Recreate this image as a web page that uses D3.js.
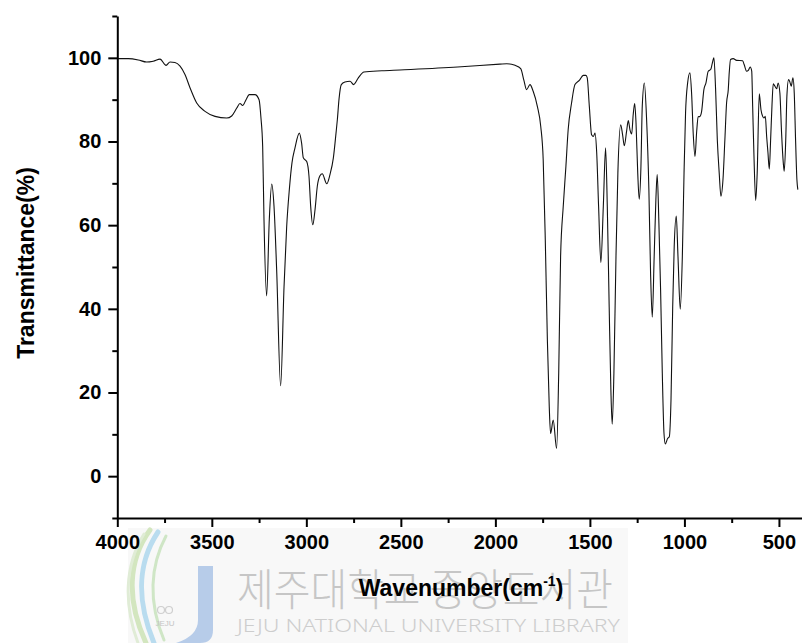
<!DOCTYPE html>
<html>
<head>
<meta charset="utf-8">
<script src="https://cdn.jsdelivr.net/npm/d3@7"></script>
<style>
  html, body { margin: 0; padding: 0; background: #fff; }
  svg { display: block; }
</style>
</head>
<body>
<svg id="chart" width="802" height="643"></svg>
<script>
// FT-IR spectrum: wavenumber (cm-1) vs. transmittance (%)
const wavenumber = [
  3998, 3942, 3889, 3845, 3810, 3774, 3742, 3721, 3695, 3668, 3642, 3615, 3580, 3536, 3483, 3421,
  3395, 3368, 3351, 3337, 3319, 3302, 3272, 3250, 3240, 3231, 3224, 3210, 3196, 3183, 3171, 3157,
  3136, 3118, 3104, 3090, 3076, 3060, 3037, 3025, 3016, 2998, 2986, 2977, 2966, 2954, 2942, 2928,
  2916, 2892, 2875, 2857, 2843, 2836, 2827, 2815, 2796, 2769, 2750, 2725, 2695, 2600, 2505, 2200,
  1976, 1940, 1896, 1866, 1849, 1835, 1817, 1800, 1778, 1760, 1747, 1736, 1725, 1715, 1708, 1694,
  1676, 1665, 1655, 1641, 1627, 1615, 1597, 1579, 1556, 1535, 1521, 1514, 1503, 1491, 1482, 1473,
  1464, 1454, 1442, 1429, 1417, 1408, 1398, 1389, 1382, 1373, 1362, 1352, 1337, 1327, 1318, 1306,
  1297, 1288, 1279, 1271, 1263, 1256, 1247, 1239, 1230, 1223, 1212, 1200, 1188, 1179, 1170, 1160,
  1151, 1144, 1135, 1126, 1117, 1108, 1101, 1089, 1080, 1071, 1062, 1054, 1043, 1034, 1022, 1011,
  1002, 994, 983, 971, 962, 953, 944, 935, 927, 918, 909, 897, 886, 874, 861, 853,
  844, 835, 826, 816, 807, 796, 786, 777, 768, 763, 756, 742, 724, 692, 684, 671,
  662, 652, 644, 639, 632, 623, 615, 604, 595, 586, 579, 572, 565, 558, 551, 544,
  537, 530, 521, 512, 504, 495, 486, 477, 472, 464, 458, 449, 442, 435, 426, 419,
  412, 405, 400
];
const transmittance = [
  99.8, 99.8, 99.5, 99.0, 99.2, 99.7, 98.2, 99.0, 98.9, 98.0, 96.0, 92.8, 89.2, 87.2, 86.0, 85.6,
  86.1, 88.0, 89.1, 88.6, 90.0, 91.2, 91.2, 90.0, 85.6, 78.8, 61.3, 43.1, 61.3, 69.8, 64.5, 49.3,
  21.6, 45.3, 59.7, 68.5, 74.9, 78.5, 82.0, 79.6, 76.1, 75.2, 71.7, 64.5, 60.1, 63.7, 69.3, 71.8,
  72.3, 69.9, 72.1, 76.1, 82.0, 85.2, 90.2, 93.6, 94.2, 94.4, 93.6, 95.2, 96.6, 96.9, 97.1, 97.8,
  98.5, 98.6, 98.2, 97.4, 94.6, 92.4, 93.6, 92.0, 88.4, 83.6, 75.6, 56.5, 32.6, 16.6, 10.2, 13.4,
  6.6, 24.6, 52.5, 64.5, 74.0, 82.8, 89.2, 93.6, 94.6, 95.8, 95.8, 95.2, 88.4, 81.6, 81.2, 82.0,
  77.3, 64.5, 51.1, 64.5, 78.5, 64.5, 40.5, 20.6, 12.4, 24.6, 52.5, 72.5, 84.0, 81.6, 79.0, 82.4,
  85.0, 82.8, 81.8, 86.4, 89.1, 84.4, 72.5, 66.2, 74.0, 88.4, 94.0, 85.2, 68.5, 48.5, 38.0, 52.5,
  66.1, 72.1, 60.5, 44.5, 24.6, 10.2, 7.7, 9.0, 9.4, 18.2, 40.5, 54.9, 62.2, 52.5, 39.9, 52.5,
  72.5, 86.8, 94.0, 96.4, 91.5, 81.5, 76.4, 82.5, 85.9, 86.0, 87.2, 92.4, 94.0, 96.8, 97.2, 98.6,
  100.0, 92.4, 80.4, 72.5, 66.9, 70.9, 80.4, 89.2, 92.4, 96.4, 99.6, 99.8, 99.4, 99.3, 98.4, 96.8,
  97.0, 97.8, 96.8, 88.4, 76.4, 65.9, 72.5, 91.4, 87.6, 86.0, 85.6, 86.0, 81.2, 77.3, 73.4, 80.4,
  88.4, 93.8, 93.2, 92.6, 94.0, 91.6, 82.0, 74.9, 72.9, 80.4, 90.8, 94.8, 94.2, 93.2, 95.2, 91.6,
  80.4, 70.9, 68.5
];

const xMajorTicks = [4000, 3500, 3000, 2500, 2000, 1500, 1000, 500];
const xMinorTicks = [3750, 3250, 2750, 2250, 1750, 1250, 750];
const yMajorTicks = [0, 20, 40, 60, 80, 100];
const yMinorTicks = [-10, 10, 30, 50, 70, 90, 110];

const xTitle = "Wavenumber(cm";
const xTitleSup = "-1";
const yTitle = "Transmittance(%)";

const watermarkKo = "제주대학교 중앙도서관";
const watermarkEn = "JEJU NATIONAL UNIVERSITY  LIBRARY";
const logoText = "JEJU";

const svg = d3.select("#chart");
const FONT = "'Liberation Sans', Arial, Helvetica, sans-serif";

// ---- library watermark (drawn underneath the chart) ----
const wm = svg.append("g").attr("class", "watermark");
wm.append("rect")
  .attr("x", 128).attr("y", 528).attr("width", 500).attr("height", 115)
  .attr("fill", "#f8f8f8");

// logo swooshes
const swooshes = [
  { d: "M150,530 C128,560 126,600 146,643", c: "#d3e6bf", w: 5 },
  { d: "M158,532 C138,562 136,600 154,643", c: "#b9dcef", w: 5 },
  { d: "M166,536 C150,566 148,602 164,640", c: "#cfe6c6", w: 3 },
  { d: "M144,534 C124,566 124,606 138,643", c: "#e0ecd6", w: 3 }
];
wm.selectAll("path.swoosh").data(swooshes).join("path")
  .attr("class", "swoosh")
  .attr("d", d => d.d)
  .attr("fill", "none")
  .attr("stroke", d => d.c)
  .attr("stroke-width", d => d.w)
  .attr("stroke-linecap", "round");
// logo "J" bar
wm.append("path")
  .attr("d", "M198,566 L213,566 L213,630 Q213,643 200,643 L176,643 Q198,636 198,620 Z")
  .attr("fill", "#b7cce9");
wm.append("circle").attr("cx", 161).attr("cy", 610).attr("r", 3.5)
  .attr("fill", "none").attr("stroke", "#cfcfcf").attr("stroke-width", 1.2);
wm.append("circle").attr("cx", 169).attr("cy", 610).attr("r", 3.5)
  .attr("fill", "none").attr("stroke", "#cfcfcf").attr("stroke-width", 1.2);
wm.append("text")
  .attr("x", 165).attr("y", 626)
  .attr("text-anchor", "middle")
  .attr("font-family", FONT).attr("font-size", 8)
  .attr("fill", "#c4c4c4")
  .text(logoText);

wm.append("text")
  .attr("x", 237).attr("y", 606)
  .attr("font-family", "'Noto Sans CJK KR', 'Noto Sans', sans-serif")
  .attr("font-weight", 300)
  .attr("font-size", 44)
  .attr("fill", "#c6c6c6")
  .attr("textLength", 376)
  .attr("lengthAdjust", "spacingAndGlyphs")
  .text(watermarkKo);
wm.append("text")
  .attr("x", 237).attr("y", 632)
  .attr("font-family", "'Noto Sans', 'DejaVu Sans', sans-serif")
  .attr("font-weight", 300)
  .attr("font-size", 18)
  .attr("fill", "#cdcdcd")
  .attr("textLength", 383)
  .attr("lengthAdjust", "spacingAndGlyphs")
  .text(watermarkEn);

// ---- scales ----
const x = d3.scaleLinear().domain([4000, 378]).range([117.3, 802]);
const y = d3.scaleLinear().domain([-10, 110]).range([518, 16]);

const data = wavenumber.map((w, i) => ({ w, t: transmittance[i] }));

// ---- spectrum ----
const line = d3.line()
  .x(d => x(d.w))
  .y(d => y(d.t))
  .curve(d3.curveMonotoneX);

svg.append("path")
  .datum(data)
  .attr("d", line)
  .attr("fill", "none")
  .attr("stroke", "#111")
  .attr("stroke-width", 1.1)
  .attr("stroke-linejoin", "round");

// ---- axes ----
function styleAxis(g) {
  g.select(".domain").attr("stroke", "#000").attr("stroke-width", 2);
  g.selectAll(".tick line").attr("stroke", "#000").attr("stroke-width", 2);
  g.selectAll(".tick text")
    .attr("font-family", FONT)
    .attr("font-weight", "bold")
    .attr("font-size", 20)
    .attr("fill", "#000");
}

const xAxisG = svg.append("g").attr("transform", `translate(0,${y(-10)})`);
xAxisG.append("g")
  .call(d3.axisBottom(x).tickValues(xMinorTicks).tickSize(5).tickSizeOuter(0).tickFormat(""))
  .call(g => g.select(".domain").remove())
  .call(styleAxis);
xAxisG.append("g")
  .call(d3.axisBottom(x).tickValues(xMajorTicks).tickSize(9).tickSizeOuter(0).tickPadding(8).tickFormat(d3.format("d")))
  .call(styleAxis);

const yAxisG = svg.append("g").attr("transform", `translate(${x(4000)},0)`);
yAxisG.append("g")
  .call(d3.axisLeft(y).tickValues(yMinorTicks).tickSize(5).tickSizeOuter(0).tickFormat(""))
  .call(g => g.select(".domain").remove())
  .call(styleAxis);
yAxisG.append("g")
  .call(d3.axisLeft(y).tickValues(yMajorTicks).tickSize(9).tickSizeOuter(0).tickPadding(7).tickFormat(d3.format("d")))
  .call(styleAxis);

// ---- axis titles ----
const xt = svg.append("text")
  .attr("x", 461).attr("y", 596)
  .attr("text-anchor", "middle")
  .attr("font-family", FONT)
  .attr("font-weight", "bold")
  .attr("font-size", 23)
  .attr("fill", "#000");
xt.append("tspan").text(xTitle);
xt.append("tspan").attr("font-size", 14).attr("dy", -10).text(xTitleSup);
xt.append("tspan").attr("dy", 10).text(")");

svg.append("text")
  .attr("transform", "translate(34,263) rotate(-90)")
  .attr("text-anchor", "middle")
  .attr("font-family", FONT)
  .attr("font-weight", "bold")
  .attr("font-size", 23)
  .attr("fill", "#000")
  .text(yTitle);
</script>
</body>
</html>
